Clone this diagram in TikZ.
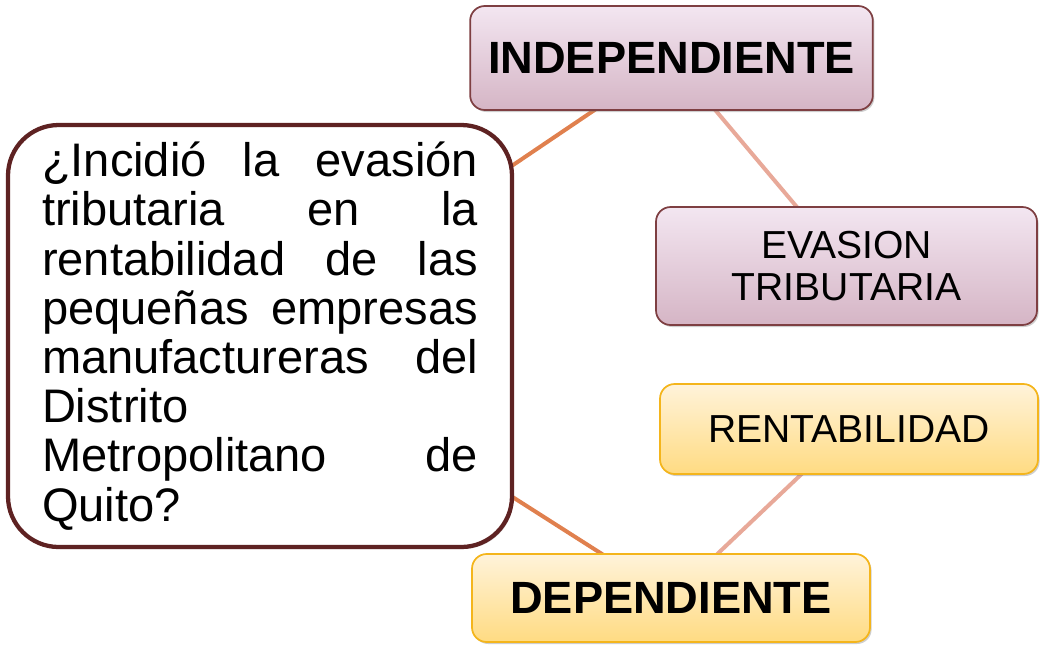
\documentclass[tikz,border=0pt]{standalone}
\usepackage{fontspec}
\setmainfont{Liberation Sans}
\usetikzlibrary{shadows,backgrounds}
\definecolor{pinktop}{HTML}{F3E6F1}
\definecolor{pinkbot}{HTML}{D5B5C5}
\definecolor{pinkline}{HTML}{7E3F42}
\definecolor{yeltop}{HTML}{FFF3DA}
\definecolor{yelbot}{HTML}{FFDB82}
\definecolor{yelline}{HTML}{F4B51C}
\definecolor{qline}{HTML}{5E2222}
\definecolor{darkcon}{HTML}{E0804E}
\definecolor{lightcon}{HTML}{E8A999}
\tikzset{
  boxbase/.style={rectangle, rounded corners=11pt, line width=1.3pt, inner sep=0pt,
    drop shadow={shadow xshift=1.2pt, shadow yshift=-1.5pt, opacity=0.35, fill=black!55}},
  pinkbox/.style={boxbase, draw=pinkline, top color=pinktop, bottom color=pinkbot},
  yelbox/.style={boxbase, draw=yelline, top color=yeltop, bottom color=yelbot},
  qbox/.style={rectangle, rounded corners=38pt, line width=3.2pt, draw=qline, fill=white,
    inner sep=0pt, minimum width=378pt, minimum height=316.5pt, align=left,
    drop shadow={shadow xshift=1.2pt, shadow yshift=-1.5pt, opacity=0.3, fill=black!55},
    font=\fontsize{35.3}{36.9}\selectfont},
  bigtext/.style={font=\fontsize{33.9}{38}\selectfont\bfseries},
  smalltext/.style={font=\fontsize{29.3}{31.8}\selectfont, align=center},
  darklink/.style={draw=darkcon, line width=3pt},
  lightlink/.style={draw=lightcon, line width=3pt}
}
\newcommand\qline[1]{\makebox[327pt][s]{#1}}
\begin{document}
\begin{tikzpicture}[x=0.75pt, y=-0.75pt]
\useasboundingbox (0,0) rectangle (1040,644);
\node[pinkbox, bigtext, minimum width=302pt, minimum height=78pt] (indep) at (671.5,58) {INDEPENDIENTE};
\node[pinkbox, smalltext, minimum width=285.75pt, minimum height=88.5pt] (evasion) at (846.5,266) {EVASION\\TRIBUTARIA};
\node[yelbox, smalltext, minimum width=283.5pt, minimum height=67.5pt] (rent) at (849,429) {RENTABILIDAD};
\node[yelbox, bigtext, minimum width=298.5pt, minimum height=66pt] (dep) at (671,598) {DEPENDIENTE};
\node[qbox] (question) at (260,336) {%
\qline{¿Incidió la evasión}\\
\qline{tributaria en la}\\
\qline{rentabilidad de las}\\
\qline{pequeñas empresas}\\
\qline{manufactureras del}\\
Distrito\\
\qline{Metropolitano de}\\
Quito?};
\begin{pgfonlayer}{background}
\draw[darklink] (question.center) -- (indep.center);
\draw[lightlink] (indep.center) -- (evasion.center);
\draw[darklink] (question.center) -- (dep.center);
\draw[lightlink] (rent.center) -- (dep.center);
\end{pgfonlayer}
\end{tikzpicture}
\end{document}
